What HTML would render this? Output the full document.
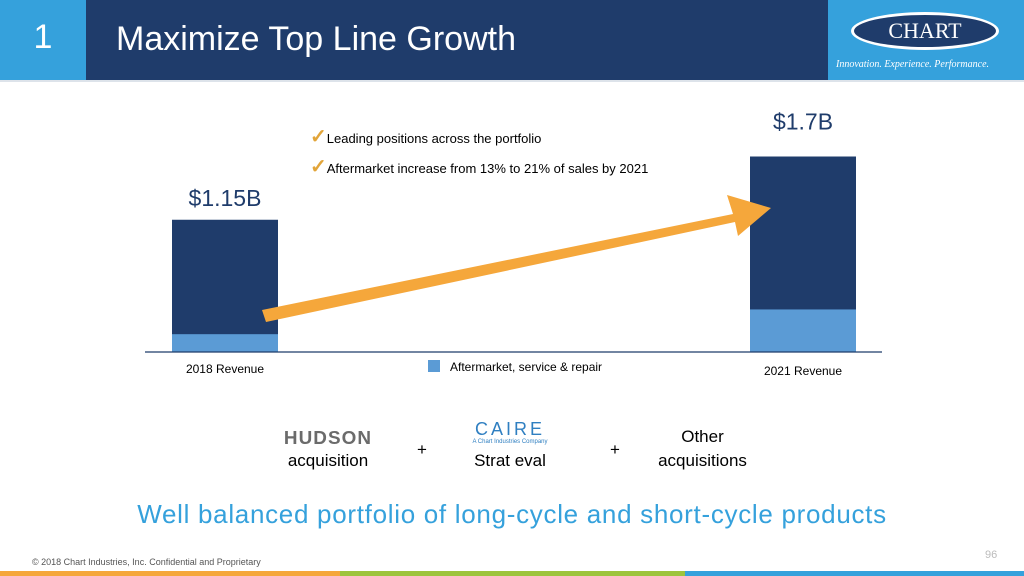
<!DOCTYPE html>
<html><head><meta charset="utf-8"><style>
body{margin:0;width:1024px;height:576px;overflow:hidden;background:#fff;font-family:"Liberation Sans",sans-serif;position:relative}
.a{position:absolute}
</style></head><body>
<div class="a" style="left:0;top:0;width:86px;height:80px;background:#35a1dc"></div>
<div class="a" style="left:0;top:18px;width:86px;text-align:center;color:#fff;font-size:34px">1</div>
<div class="a" style="left:86px;top:0;width:742px;height:80px;background:#1f3c6b"></div>
<div class="a" style="left:116px;top:20px;color:#fff;font-size:34px">Maximize Top Line Growth</div>
<div class="a" style="left:828px;top:0;width:196px;height:80px;background:#35a1dc"></div>
<div class="a" style="left:851px;top:12px;width:148px;height:38px;border:3px solid #fff;border-radius:50%;background:#1f3c6b;box-sizing:border-box;color:#fff;font-family:'Liberation Serif',serif;font-size:22px;text-align:center;line-height:32px">CHART</div>
<div class="a" style="left:836px;top:59px;color:#fff;font-family:'Liberation Serif',serif;font-style:italic;font-size:10px">Innovation. Experience. Performance.</div>
<div class="a" style="left:0;top:80px;width:1024px;height:2px;background:#dde3ea"></div>

<svg class="a" style="left:0;top:0" width="1024" height="576">
<g id="bars"></g>
<line x1="145" y1="352" x2="882" y2="352" stroke="#1f3c6b" stroke-width="1.2"/>
<polygon points="262,310 733,214 727,195 771,208 738,236 735,222 266,322" fill="#f5a73b"/>
<rect x="428" y="360" width="12" height="12" fill="#5b9bd5"/>
<text x="450" y="371" font-size="12" fill="#000">Aftermarket, service &amp; repair</text>
</svg>
<script>
const categories=["2018 Revenue","2021 Revenue"];
const totals=[1.15,1.7];
const aftermarket=[0.155,0.37];
const valueLabels=["$1.15B","$1.7B"];
const base=352, scale=115, xs=[172,750], w=106, labelGap=[14,27];
const y=v=>base-v*scale;
const g=document.getElementById('bars');
const ns='http://www.w3.org/2000/svg';
categories.forEach((c,i)=>{
 let r=document.createElementNS(ns,'rect');
 r.setAttribute('x',xs[i]);r.setAttribute('y',y(totals[i]));r.setAttribute('width',w);r.setAttribute('height',totals[i]*scale);r.setAttribute('fill','#1f3c6b');
 
 
 g.appendChild(r);
 let a=document.createElementNS(ns,'rect');
 a.setAttribute('x',xs[i]);a.setAttribute('y',y(aftermarket[i]));a.setAttribute('width',w);a.setAttribute('height',aftermarket[i]*scale);a.setAttribute('fill','#5b9bd5');
 
 
 g.appendChild(a);
 let t=document.createElementNS(ns,'text');
 t.setAttribute('x',xs[i]+w/2);t.setAttribute('y',y(totals[i])-labelGap[i]);t.setAttribute('text-anchor','middle');t.setAttribute('font-size','23');t.setAttribute('fill','#1f3c6b');
 t.textContent=valueLabels[i];
 
 
 g.appendChild(t);
 let l=document.createElementNS(ns,'text');
 l.setAttribute('x',xs[i]+w/2);l.setAttribute('y',373+i*2);l.setAttribute('text-anchor','middle');l.setAttribute('font-size','12');
 l.textContent=c;
 
 
 g.appendChild(l);
});
</script>
<div class="a" style="left:310px;top:124px;font-size:13px"><span style="color:#e2a53a;font-size:20px;font-weight:bold">✓</span>Leading positions across the portfolio</div>
<div class="a" style="left:310px;top:154px;font-size:13px"><span style="color:#e2a53a;font-size:20px;font-weight:bold">✓</span>Aftermarket increase from 13% to 21% of sales by 2021</div>

<div class="a" style="left:270px;top:428px;width:116px;text-align:center;font-weight:bold;font-size:18px;color:#6b6b6b;letter-spacing:1px;transform:scaleX(1.05)">HUDSON</div>
<div class="a" style="left:276px;top:451px;width:104px;text-align:center;font-size:17px">acquisition</div>
<div class="a" style="left:417px;top:440px;font-size:17px">+</div>
<div class="a" style="left:460px;top:419px;width:100px;text-align:center;color:#2f7fc1;font-size:18px;letter-spacing:3px">CAIRE</div>
<div class="a" style="left:460px;top:439px;width:100px;text-align:center;color:#2f7fc1;font-size:6px">A Chart Industries Company</div>
<div class="a" style="left:455px;top:451px;width:110px;text-align:center;font-size:17px">Strat eval</div>
<div class="a" style="left:610px;top:440px;font-size:17px">+</div>
<div class="a" style="left:640px;top:425px;width:125px;text-align:center;font-size:17px;line-height:24px">Other<br>acquisitions</div>

<div class="a" style="left:0;top:499px;width:1024px;text-align:center;color:#35a1dc;font-size:26px;letter-spacing:0.7px">Well balanced portfolio of long-cycle and short-cycle products</div>
<div class="a" style="left:32px;top:557px;font-size:9px;color:#555">© 2018 Chart Industries, Inc. Confidential and Proprietary</div>
<div class="a" style="left:985px;top:549px;font-size:11px;color:#bbb">96</div>
<div class="a" style="left:0;top:571px;width:340px;height:5px;background:#f5a73b"></div>
<div class="a" style="left:340px;top:571px;width:345px;height:5px;background:#9dc43d"></div>
<div class="a" style="left:685px;top:571px;width:339px;height:5px;background:#35a1dc"></div>
</body></html>
